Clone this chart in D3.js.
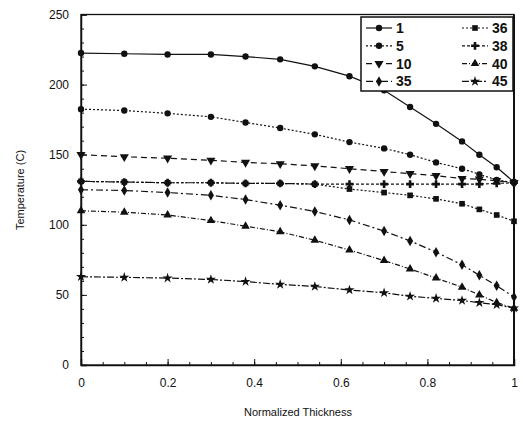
<!DOCTYPE html>
<html><head><meta charset="utf-8">
<script src="https://cdn.jsdelivr.net/npm/d3@7/dist/d3.min.js"></script>
<style>body{margin:0;background:#fff}svg{display:block}text{font-family:"Liberation Sans",Arial,sans-serif;fill:#111}</style>
</head><body><svg id="c" width="523" height="427"></svg>
<script>
const xValues = [0, 0.1, 0.2, 0.3, 0.38, 0.46, 0.54, 0.62, 0.7, 0.76, 0.82, 0.88, 0.92, 0.96, 1];
const seriesNames = ["1", "5", "10", "35", "36", "38", "40", "45"];
const s1  = [222.5, 222, 221.5, 221.5, 220, 218, 213, 206, 196, 184, 172, 159.5, 150, 141, 130.5];
const s5  = [182.5, 181.5, 179.5, 177, 173, 169, 164.5, 159, 154.5, 150, 144.5, 140, 136, 132, 130];
const s10 = [150, 148.5, 147.5, 146, 144.5, 143.5, 142, 140, 138, 136.5, 135, 133, 132.5, 131.5, 130];
const s35 = [125, 124.5, 123, 121, 118, 114, 109.5, 103.5, 95.5, 88.5, 80.5, 71.5, 64, 56.5, 48.5];
const s36 = [131, 130.5, 130, 130, 129.5, 129.5, 129, 125.5, 123, 121, 118.5, 115, 111, 107, 102.5];
const s38 = [131, 130.5, 130, 130, 129.5, 129.5, 129, 129, 129, 129, 129, 129, 129, 129.5, 130];
const s40 = [110, 109, 107, 103, 99, 95, 89, 82, 74.5, 68.5, 62, 55.5, 50, 44.5, 40.5];
const s45 = [63, 62.5, 62, 61, 59.5, 57.5, 56, 53.5, 51.5, 49, 47.5, 46, 44.5, 43, 40.5];
const xTicks = [0, 0.2, 0.4, 0.6, 0.8, 1];
const xTickLabels = ["0", "0.2", "0.4", "0.6", "0.8", "1"];
const yTicks = [0, 50, 100, 150, 200, 250];

const allSeries = [s1, s5, s10, s35, s36, s38, s40, s45];
const styles = {
  "1":  {dash: null, sym: d3.symbolCircle},
  "5":  {dash: "2,2", sym: d3.symbolCircle},
  "10": {dash: "6,4", sym: "down"},
  "35": {dash: "7,3,2,3", sym: d3.symbolDiamond},
  "36": {dash: "2,2", sym: d3.symbolSquare},
  "38": {dash: "3,2", sym: d3.symbolCross},
  "40": {dash: "5,2,1,2", sym: d3.symbolTriangle},
  "45": {dash: "7,2,2,2", sym: d3.symbolStar}
};

const svg = d3.select("#c");
const x = d3.scaleLinear().domain([0, 1]).range([81, 514]);
const y = d3.scaleLinear().domain([0, 250]).range([365, 14.5]);

function sym(g, key, cx, cy) {
  const st = styles[key];
  if (st.sym === "down") {
    g.append("path").attr("d", d3.symbol(d3.symbolTriangle, 36)())
      .attr("transform", `translate(${cx},${cy}) rotate(180)`).attr("fill", "#111");
  } else {
    g.append("path").attr("d", d3.symbol(st.sym, st.sym === d3.symbolCross ? 34 : 32)())
      .attr("transform", `translate(${cx},${cy})`).attr("fill", "#111");
  }
}

// frame
svg.append("rect").attr("x", 81).attr("y", 14.5).attr("width", 433).attr("height", 350.5)
  .attr("fill", "none").attr("stroke", "#111").attr("stroke-width", 1.3);
svg.append("line").attr("x1", 514).attr("x2", 514).attr("y1", 14.5).attr("y2", 365)
  .attr("stroke", "#111").attr("stroke-width", 2);

// axes
const gx = svg.append("g").attr("transform", "translate(0,365)");
gx.call(d3.axisBottom(x).tickValues(d3.range(0, 1.0001, 0.05)).tickSize(-3).tickFormat(""));
gx.call(g => g.select(".domain").remove());
const gx2 = svg.append("g").attr("transform", "translate(0,365)");
gx2.call(d3.axisBottom(x).tickValues(xTicks).tickSize(-6).tickPadding(18)
  .tickFormat((d, i) => xTickLabels[i]));
gx2.select(".domain").attr("stroke", "#111").attr("stroke-width", 1.5);
gx2.selectAll("text").attr("font-size", 12).attr("dy", "0.32em");

const gy = svg.append("g").attr("transform", "translate(81,0)");
gy.call(d3.axisLeft(y).tickValues(d3.range(0, 251, 10)).tickSize(-3).tickFormat(""));
gy.call(g => g.select(".domain").remove());
const gy2 = svg.append("g").attr("transform", "translate(81,0)");
gy2.call(d3.axisLeft(y).tickValues(yTicks).tickSize(-6).tickPadding(12));
gy2.select(".domain").attr("stroke", "#111").attr("stroke-width", 1.5);
gy2.selectAll("text").attr("font-size", 12);

svg.selectAll(".tick line").attr("stroke", "#111");

// lines
const line = d3.line().x((d, i) => x(xValues[i])).y(d => y(d));
allSeries.forEach((s, k) => {
  const key = seriesNames[k];
  svg.append("path").attr("d", line(s)).attr("fill", "none").attr("stroke", "#111")
    .attr("stroke-width", 1.2).attr("stroke-dasharray", styles[key].dash);
  const g = svg.append("g");
  s.forEach((v, i) => sym(g, key, x(xValues[i]), y(v)));
});

// legend
const lg = svg.append("g");
lg.append("rect").attr("x", 361).attr("y", 17).attr("width", 152).attr("height", 74)
  .attr("fill", "#fff").attr("stroke", "#111").attr("stroke-width", 1.5);
seriesNames.forEach((key, k) => {
  const col = Math.floor(k / 4), row = k % 4;
  const lx = col === 0 ? 366 : 462, ly = 28 + row * 17.8;
  lg.append("line").attr("x1", lx).attr("x2", lx + 26).attr("y1", ly).attr("y2", ly)
    .attr("stroke", "#111").attr("stroke-width", 1.2).attr("stroke-dasharray", styles[key].dash);
  sym(lg, key, lx + 13, ly);
  lg.append("text").attr("x", lx + 30).attr("y", ly).attr("dy", "0.35em")
    .attr("font-size", 14).attr("font-weight", "bold").text(key);
});

// titles
svg.append("text").attr("x", 298).attr("y", 416).attr("text-anchor", "middle")
  .attr("font-size", 11).text("Normalized Thickness");
svg.append("text").attr("transform", "translate(24,190) rotate(-90)").attr("text-anchor", "middle")
  .attr("font-size", 11).text("Temperature (C)");
</script></body></html>
